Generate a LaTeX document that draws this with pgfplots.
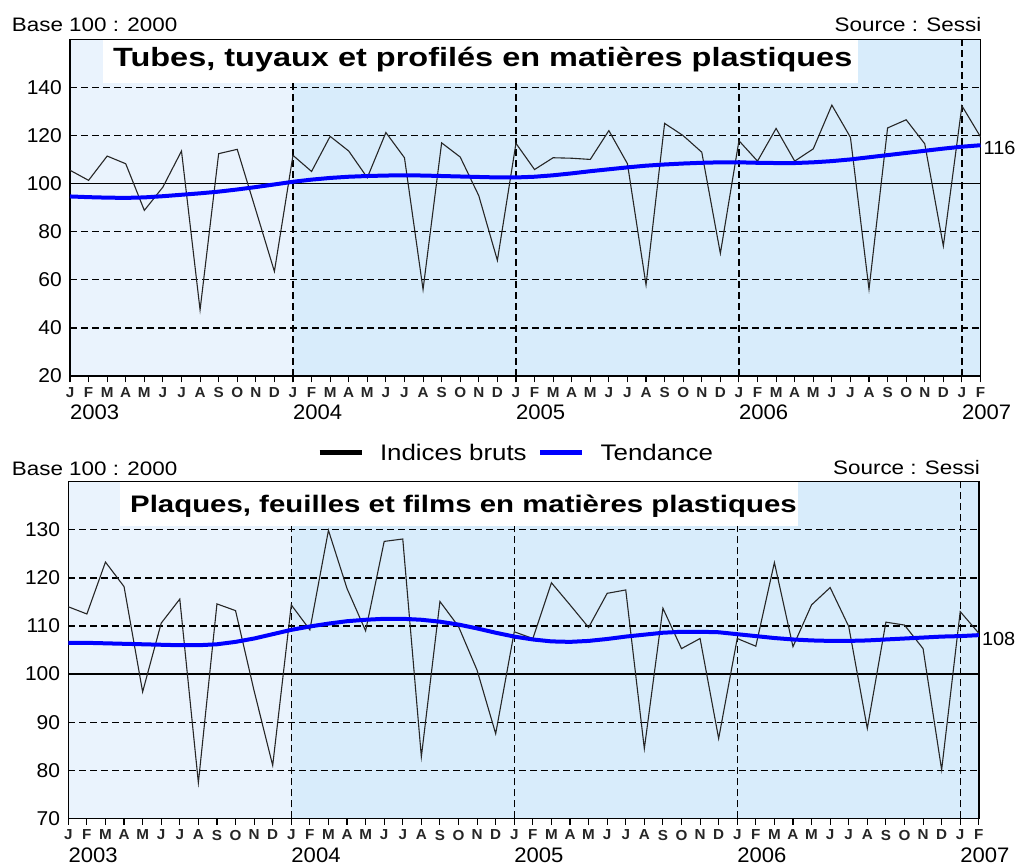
\documentclass[border=0pt]{standalone}
\usepackage{fontspec}
\setmainfont{Liberation Sans}[FakeStretch=1.15]
\newfontfamily\titlefont{Liberation Sans}[FakeStretch=1.23]
\newfontfamily\numfont{Liberation Sans}[FakeStretch=1.05]
\usepackage{pgfplots}
\pgfplotsset{compat=1.18}
\usepackage{pgfplotstable}
\definecolor{bgA}{RGB}{234,243,253}
\definecolor{bgB}{RGB}{216,236,251}
\definecolor{trendblue}{RGB}{0,0,255}

\pgfplotstableread{
m raw trend
0 105.6 94.7
1 101.4 94.4
2 111.5 94.2
3 108.3 94.1
4 88.9 94.3
5 98.6 94.8
6 113.6 95.4
7 47.5 96.0
8 112.5 96.7
9 114.3 97.6
10 89.0 98.6
11 63.5 99.7
12 111.8 100.8
13 105.1 101.7
14 119.7 102.4
15 113.6 102.9
16 102.5 103.2
17 121.3 103.4
18 110.8 103.5
19 56.0 103.4
20 117.0 103.2
21 111.1 103.0
22 95.0 102.8
23 68.1 102.6
24 116.8 102.6
25 105.9 102.9
26 110.8 103.5
27 110.6 104.3
28 110.1 105.2
29 122.1 106.0
30 108.3 106.8
31 57.9 107.5
32 125.1 108.0
33 120.0 108.4
34 113.1 108.7
35 71.0 108.9
36 117.9 108.9
37 109.4 108.7
38 123.0 108.6
39 109.4 108.6
40 114.5 108.9
41 132.7 109.4
42 119.3 110.1
43 56.1 111.0
44 123.2 111.9
45 126.6 112.8
46 116.6 113.7
47 74.1 114.6
48 132.4 115.4
49 119.5 116.0
}\tubes

\pgfplotstableread{
m raw trend
0 114.0 106.5
1 112.5 106.5
2 123.3 106.4
3 118.2 106.3
4 96.3 106.2
5 110.6 106.1
6 115.6 106.0
7 77.4 106.0
8 114.6 106.2
9 113.2 106.7
10 96.5 107.4
11 81.0 108.3
12 114.4 109.2
13 109.2 109.9
14 129.9 110.5
15 117.8 111.0
16 109.0 111.3
17 127.6 111.5
18 128.1 111.5
19 82.8 111.3
20 115.1 110.9
21 109.9 110.3
22 100.8 109.5
23 87.6 108.6
24 108.8 107.8
25 107.4 107.2
26 119.0 106.8
27 114.4 106.7
28 109.7 106.9
29 116.8 107.3
30 117.5 107.8
31 84.5 108.2
32 113.7 108.6
33 105.3 108.8
34 107.4 108.8
35 86.6 108.7
36 107.4 108.3
37 105.8 107.9
38 123.2 107.5
39 105.7 107.2
40 114.4 107.0
41 118.0 106.9
42 109.9 106.9
43 88.7 107.0
44 110.8 107.2
45 110.2 107.4
46 105.3 107.6
47 80.1 107.8
48 113.0 107.9
49 108.5 108.1
}\plaques

\tikzset{
  yearlab/.style={anchor=base west, font=\numfont\fontsize{21}{21}\selectfont, inner sep=0pt},
}
\pgfplotsset{
  panel/.style={
    scale only axis, width=910.5pt, height=336.5pt,
    xmin=0, xmax=49,
    xtick={0,...,49},
    xticklabels={J,F,M,A,M,J,J,A,S,O,N,D,J,F,M,A,M,J,J,A,S,O,N,D,J,F,M,A,M,J,J,A,S,O,N,D,J,F,M,A,M,J,J,A,S,O,N,D,J,F},
    xtick pos=bottom, xtick align=outside, major tick length=6.5pt,
    xtick style={black, line width=1.1pt},
    ytick pos=left, ytick style={draw=none},
    xticklabel style={font=\numfont\bfseries\fontsize{14.5}{15}\selectfont, anchor=north, inner sep=0pt, yshift=-5pt, text=black!85},
    yticklabel style={font=\numfont\fontsize{20}{20}\selectfont, inner sep=0pt, xshift=-8pt},
    /pgf/number format/assume math mode=true,
    ymajorgrids,
    major grid style={black, line width=1.25pt, dash pattern=on 7pt off 4pt},
    extra x ticks={12,24,36,48}, extra x tick labels={},
    extra x tick style={grid=major},
    axis line style={black, line width=1.4pt},
    set layers, clip=false,
  },
  rawline/.style={black!85, line width=1.1pt},
  trendline/.style={trendblue, line width=4pt},
}

\begin{document}
\begin{tikzpicture}
\path (0pt,0pt) rectangle (1034pt,865pt);

% ---------------- top panel ----------------
\begin{axis}[panel, at={(70pt,489pt)}, anchor=south west,
  ymin=20, ymax=160, ytick={20,40,...,140},
  legend style={at={(axis description cs:0.4898,-0.2288)}, anchor=center,
    draw=none, fill=none, legend columns=2,
    font=\fontsize{22.5}{23}\selectfont,
    /tikz/every odd column/.style={column sep=14pt},
    /tikz/every even column/.style={column sep=9pt}},
  legend cell align=left]
\begin{pgfonlayer}{axis background}
  \fill[bgA] (axis cs:0,20) rectangle (axis cs:12,160);
  \fill[bgB] (axis cs:12,20) rectangle (axis cs:49,160);
\end{pgfonlayer}
\begin{pgfonlayer}{axis ticks}
  \fill[white] (axis cs:1.78,142.1) rectangle (axis cs:42.4,160);
\end{pgfonlayer}
\draw[black, line width=1.2pt] (axis cs:0,100) -- (axis cs:49,100);
\addplot[rawline, legend image code/.code={\draw[black,line width=5pt] (0pt,0pt) -- (42pt,0pt);}] table[x=m,y=raw] {\tubes};
\addlegendentry{Indices bruts}
\addplot[trendline, legend image code/.code={\draw[trendblue,line width=5pt] (0pt,0pt) -- (42pt,0pt);}] table[x=m,y=trend] {\tubes};
\addlegendentry{Tendance}
\node[anchor=base west, font=\titlefont\bfseries\fontsize{26.4}{27}\selectfont, inner sep=0pt] at (axis cs:2.31,148.75) {Tubes, tuyaux et profilés en matières plastiques};
\node[anchor=west, font=\numfont\fontsize{19}{19}\selectfont, inner sep=0pt] at ([xshift=3pt]axis cs:49,115) {116};
\node[yearlab] at ([yshift=-44pt]axis cs:0,20) {2003};
\node[yearlab] at ([yshift=-44pt]axis cs:12,20) {2004};
\node[yearlab] at ([yshift=-44pt]axis cs:24,20) {2005};
\node[yearlab] at ([yshift=-44pt]axis cs:36,20) {2006};
\node[yearlab] at ([yshift=-44pt]axis cs:48,20) {2007};
\end{axis}

% ---------------- bottom panel ----------------
\begin{axis}[panel, at={(68.3pt,46.7pt)}, anchor=south west,
  ymin=70, ymax=140, ytick={70,80,...,130}]
\begin{pgfonlayer}{axis background}
  \fill[bgA] (axis cs:0,70) rectangle (axis cs:12,140);
  \fill[bgB] (axis cs:12,70) rectangle (axis cs:49,140);
\end{pgfonlayer}
\begin{pgfonlayer}{axis ticks}
  \fill[white] (axis cs:2.78,130.9) rectangle (axis cs:39.25,140);
\end{pgfonlayer}
\draw[black, line width=1.2pt] (axis cs:0,100) -- (axis cs:49,100);
\addplot[rawline] table[x=m,y=raw] {\plaques};
\addplot[trendline] table[x=m,y=trend] {\plaques};
\node[anchor=base west, font=\titlefont\bfseries\fontsize{23.9}{24}\selectfont, inner sep=0pt] at (axis cs:3.32,133.6) {Plaques, feuilles et films en matières plastiques};
\node[anchor=west, font=\numfont\fontsize{19}{19}\selectfont, inner sep=0pt] at ([xshift=3pt]axis cs:49,107.3) {108};
\node[yearlab] at ([yshift=-44pt]axis cs:0,70) {2003};
\node[yearlab] at ([yshift=-44pt]axis cs:12,70) {2004};
\node[yearlab] at ([yshift=-44pt]axis cs:24,70) {2005};
\node[yearlab] at ([yshift=-44pt]axis cs:36,70) {2006};
\node[yearlab] at ([yshift=-44pt]axis cs:48,70) {2007};
\end{axis}

% ---------------- header texts ----------------
\node[anchor=base west, inner sep=0pt, font=\fontsize{19.5}{20}\selectfont] at (11.7pt,833.3pt) {Base 100 : 2000};
\node[anchor=base east, inner sep=0pt, font=\fontsize{19.5}{20}\selectfont] at (981.5pt,833.3pt) {Source : Sessi};
\node[anchor=base west, inner sep=0pt, font=\fontsize{19.5}{20}\selectfont] at (11.7pt,389.3pt) {Base 100 : 2000};
\node[anchor=base east, inner sep=0pt, font=\fontsize{19.5}{20}\selectfont] at (980pt,390pt) {Source : Sessi};
\end{tikzpicture}
\end{document}
